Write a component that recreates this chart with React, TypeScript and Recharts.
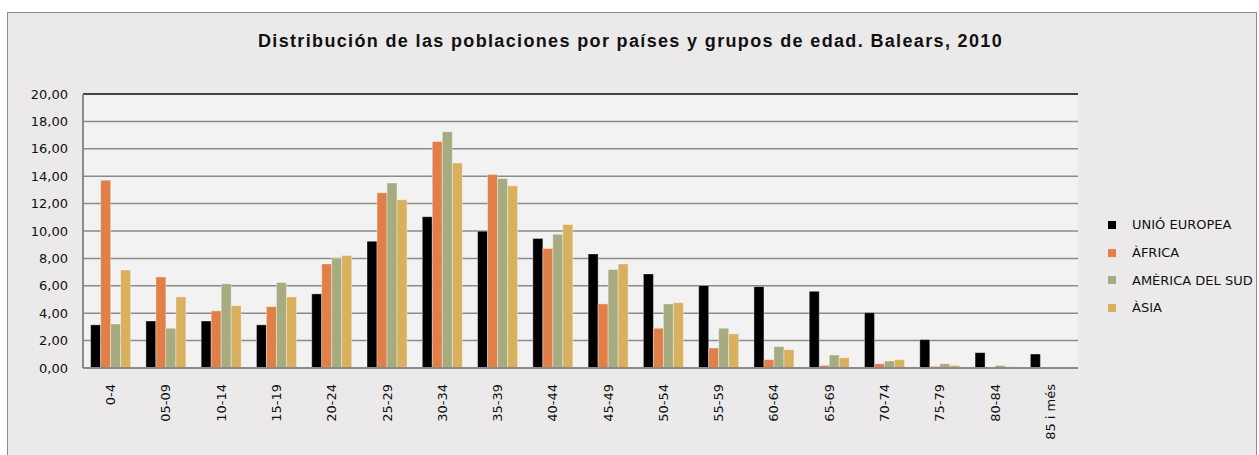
import React from 'react';
import { BarChart, Bar, XAxis, YAxis, CartesianGrid, ReferenceLine } from 'recharts';

const categories = ['0-4', '05-09', '10-14', '15-19', '20-24', '25-29', '30-34', '35-39', '40-44', '45-49', '50-54', '55-59', '60-64', '65-69', '70-74', '75-79', '80-84', '85 i més'];
const ueValues = [3.15, 3.43, 3.43, 3.15, 5.41, 9.25, 11.04, 9.99, 9.45, 8.33, 6.87, 6.02, 5.94, 5.6, 4.04, 2.07, 1.12, 1.02];
const africaValues = [13.71, 6.65, 4.17, 4.48, 7.6, 12.79, 16.54, 14.13, 8.72, 4.68, 2.9, 1.46, 0.61, 0.19, 0.31, 0.12, 0.03, 0.0];
const americaValues = [3.21, 2.9, 6.14, 6.24, 7.99, 13.5, 17.25, 13.84, 9.77, 7.19, 4.68, 2.9, 1.56, 0.95, 0.51, 0.31, 0.19, 0.0];
const asiaValues = [7.16, 5.19, 4.55, 5.19, 8.21, 12.28, 14.96, 13.3, 10.48, 7.6, 4.77, 2.49, 1.34, 0.75, 0.61, 0.19, 0.1, 0.0];
const yTicks = [0, 2, 4, 6, 8, 10, 12, 14, 16, 18, 20];

const seriesNames = ['UNIÓ EUROPEA', 'ÀFRICA', 'AMÈRICA DEL SUD', 'ÀSIA'];
const seriesKeys = ['ue', 'africa', 'america', 'asia'];
const seriesColors = ['#000000', '#e07f48', '#a6ab80', '#d9b15e'];

const data = categories.map((c, i) => ({
  cat: c,
  ue: ueValues[i],
  africa: africaValues[i],
  america: americaValues[i],
  asia: asiaValues[i],
}));

const FONT = '"DejaVu Sans", sans-serif';

const XTick = (props: any) => {
  const { x, y, payload } = props;
  return (
    <text
      transform={`translate(${x},${y + 14}) rotate(-90)`}
      textAnchor="end"
      dominantBaseline="central"
      fontFamily={FONT}
      fontSize={13}
      fill="#111"
    >
      {payload.value}
    </text>
  );
};

export default function App() {
  return (
    <div style={{ position: 'absolute', left: 0, top: 0, width: 1259, height: 455, background: '#ffffff', overflow: 'hidden' }}>
      <div
        style={{
          position: 'absolute',
          left: 7,
          top: 12,
          width: 1250,
          height: 450,
          border: '1px solid #8c8c8c',
          background: '#ebe9ea',
          boxSizing: 'border-box',
        }}
      />
      <div
        style={{
          position: 'absolute',
          left: 0,
          top: 31,
          width: 1259,
          textAlign: 'center',
          fontFamily: '"Liberation Sans", Arial, sans-serif',
          fontWeight: 'bold',
          fontSize: 18,
          letterSpacing: '1.35px',
          color: '#111',
          paddingLeft: 2,
          boxSizing: 'border-box',
        }}
      >
        Distribución de las poblaciones por países y grupos de edad. Balears, 2010
      </div>
      <div style={{ position: 'absolute', left: 0, top: 0 }}>
        <BarChart
          width={1259}
          height={455}
          data={data}
          margin={{ top: 94, right: 181, bottom: 0, left: 23 }}
          barCategoryGap="13.8%"
          barGap={0}
        >
          <CartesianGrid vertical={false} stroke="#8a8a8a" strokeWidth={1.5} fill="#f2f2f2" />
          <XAxis
            dataKey="cat"
            height={87}
            interval={0}
            tickLine={false}
            tickSize={0}
            tick={<XTick />}
            axisLine={{ stroke: '#8a8a8a', strokeWidth: 2 }}
          />
          <YAxis
            domain={[0, 20]}
            ticks={yTicks}
            width={60}
            tickLine={false}
            tickSize={0}
            tickMargin={15}
            interval={0}
            tickFormatter={(v: number) => v.toFixed(2).replace('.', ',')}
            tick={{ fontFamily: FONT, fontSize: 13, fill: '#111' }}
            axisLine={{ stroke: '#8a8a8a', strokeWidth: 2 }}
          />
          <YAxis
            yAxisId="right"
            orientation="right"
            domain={[0, 20]}
            width={0}
            tick={false}
            tickLine={false}
            axisLine={{ stroke: '#333', strokeWidth: 1.5 }}
          />
          <ReferenceLine y={20} stroke="#222" strokeWidth={1.5} />
          {seriesKeys.map((k, i) => (
            <Bar
              key={k}
              dataKey={k}
              name={seriesNames[i]}
              fill={seriesColors[i]}
              stroke="rgba(255,255,255,0.45)"
              strokeWidth={0.8}
              isAnimationActive={false}
            />
          ))}
        </BarChart>
      </div>
      <div style={{ position: 'absolute', left: 1108, top: 211, fontFamily: FONT, fontSize: 13, color: '#111' }}>
        {seriesNames.map((n, i) => (
          <div key={n} style={{ display: 'flex', alignItems: 'center', height: 27.7 }}>
            <div style={{ width: 8, height: 8, background: seriesColors[i], marginRight: 16 }} />
            <span>{n}</span>
          </div>
        ))}
      </div>
    </div>
  );
}
